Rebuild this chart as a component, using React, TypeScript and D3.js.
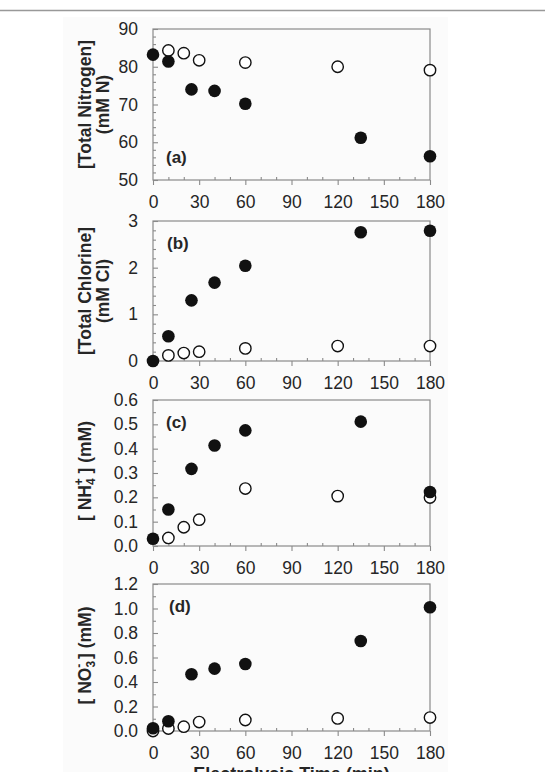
import React, { useEffect, useRef } from 'react';
import * as d3 from 'd3';

// electrolysis time (min)
const TIME_FILLED = [0, 10, 25, 40, 60, 135, 180];
const TIME_OPEN = [10, 20, 30, 60, 120, 180];
const TIME_OPEN_D = [0, 10, 20, 30, 60, 120, 180];
const X_TICKS = [0, 30, 60, 90, 120, 150, 180];

// (a) total nitrogen, mM N
const N_FILLED = [83.2, 81.4, 74.0, 73.6, 70.2, 61.2, 56.3];
const N_OPEN = [84.3, 83.6, 81.7, 81.1, 80.0, 79.1];
// (b) total chlorine, mM Cl
const CL_FILLED = [0.0, 0.53, 1.3, 1.68, 2.04, 2.76, 2.79];
const CL_OPEN = [0.12, 0.17, 0.2, 0.27, 0.32, 0.32];
// (c) NH4+, mM
const NH4_FILLED = [0.03, 0.15, 0.317, 0.413, 0.475, 0.511, 0.222];
const NH4_OPEN = [0.033, 0.077, 0.108, 0.236, 0.205, 0.199];
// (d) NO3-, mM
const NO3_FILLED = [0.022, 0.079, 0.463, 0.509, 0.547, 0.735, 1.01];
const NO3_OPEN = [0.0, 0.02, 0.035, 0.073, 0.09, 0.103, 0.11];

const FONT = '"Liberation Sans", Arial, sans-serif';
const AXIS_COLOR = '#8a8a8a';
const TEXT_COLOR = '#262626';
const LEFT = 153;
const RIGHT = 430;

const panels = [
  { key: 'a', top: 29, bottom: 180, domain: [50, 90], major: 10, minor: 2, fmt: d3.format('d'),
    filled: N_FILLED, open: N_OPEN, openT: TIME_OPEN, letter: '(a)', lx: 166 },
  { key: 'b', top: 221, bottom: 361, domain: [0, 3], major: 1, minor: 0.2, fmt: d3.format('d'),
    filled: CL_FILLED, open: CL_OPEN, openT: TIME_OPEN, letter: '(b)', lx: 167 },
  { key: 'c', top: 400, bottom: 546, domain: [0, 0.6], major: 0.1, minor: 0.05, fmt: d3.format('.1f'),
    filled: NH4_FILLED, open: NH4_OPEN, openT: TIME_OPEN, letter: '(c)', lx: 166 },
  { key: 'd', top: 584, bottom: 731, domain: [0, 1.2], major: 0.2, minor: 0.1, fmt: d3.format('.1f'),
    filled: NO3_FILLED, open: NO3_OPEN, openT: TIME_OPEN_D, letter: '(d)', lx: 169 },
];

const steps = (lo, hi, step) => {
  const out = [];
  const n = Math.round((hi - lo) / step);
  for (let i = 0; i <= n; i++) out.push(+(lo + i * step).toFixed(4));
  return out;
};

export default function App() {
  const svgRef = useRef(null);

  useEffect(() => {
    const svg = d3.select(svgRef.current);
    svg.selectAll('.panel').remove();

    const x = d3.scaleLinear().domain([0, 180]).range([LEFT, RIGHT]);
    const xMinor = steps(0, 180, 10).filter(v => v % 30 !== 0);

    panels.forEach(p => {
      const y = d3.scaleLinear().domain(p.domain).range([p.bottom, p.top]);
      const g = svg.append('g').attr('class', 'panel');

      // frame
      g.append('rect')
        .attr('x', LEFT).attr('y', p.top)
        .attr('width', RIGHT - LEFT).attr('height', p.bottom - p.top)
        .attr('fill', 'none').attr('stroke', AXIS_COLOR).attr('stroke-width', 1.2);

      // x axis: major outward, minor inward
      g.append('g')
        .attr('transform', `translate(0,${p.bottom})`)
        .call(d3.axisBottom(x).tickValues(X_TICKS).tickSizeInner(5).tickSizeOuter(0).tickPadding(11));
      g.append('g')
        .attr('transform', `translate(0,${p.bottom})`)
        .call(d3.axisBottom(x).tickValues(xMinor).tickSizeInner(-3).tickSizeOuter(0).tickFormat(() => ''));

      // y axis: all inward
      const yMajor = steps(p.domain[0], p.domain[1], p.major);
      const yMinor = steps(p.domain[0], p.domain[1], p.minor).filter(v => !yMajor.some(m => Math.abs(m - v) < 1e-6));
      g.append('g')
        .attr('transform', `translate(${LEFT},0)`)
        .call(d3.axisLeft(y).tickValues(yMajor).tickSizeInner(-5).tickSizeOuter(0).tickPadding(15).tickFormat(p.fmt));
      g.append('g')
        .attr('transform', `translate(${LEFT},0)`)
        .call(d3.axisLeft(y).tickValues(yMinor).tickSizeInner(-3).tickSizeOuter(0).tickFormat(() => ''));

      g.selectAll('.domain').remove();
      g.selectAll('.tick line').attr('stroke', AXIS_COLOR).attr('stroke-width', 1.1);
      g.selectAll('.tick text')
        .attr('font-family', FONT).attr('font-size', 17.5).attr('fill', TEXT_COLOR);

      // open circles first, filled on top
      g.selectAll('.open')
        .data(p.open.map((v, i) => [p.openT[i], v]))
        .join('circle')
        .attr('class', 'open')
        .attr('cx', d => x(d[0])).attr('cy', d => y(d[1])).attr('r', 5.7)
        .attr('fill', '#fff').attr('stroke', '#111').attr('stroke-width', 1.4);
      g.selectAll('.filled')
        .data(p.filled.map((v, i) => [TIME_FILLED[i], v]))
        .join('circle')
        .attr('class', 'filled')
        .attr('cx', d => x(d[0])).attr('cy', d => y(d[1])).attr('r', 6.3)
        .attr('fill', '#111');

      g.append('text')
        .attr('x', p.lx).attr('y', p.key === 'a' ? p.bottom - 17 : p.top + 28)
        .attr('font-family', FONT).attr('font-size', 17).attr('font-weight', 'bold')
        .attr('fill', TEXT_COLOR)
        .text(p.letter);
    });
  }, []);

  const titleStyle = { fontFamily: FONT, fontSize: 17.5, fontWeight: 'bold', fill: TEXT_COLOR };
  const cy = (a, b) => (a + b) / 2;

  return (
    <svg ref={svgRef} width={545} height={772} style={{ position: 'absolute', left: 0, top: 0, background: '#fff' }}>
      <rect x={63} y={17} width={385} height={755} fill="#fbfbfb" />
      <line x1={0} x2={545} y1={10.5} y2={10.5} stroke="#999" strokeWidth={1.3} />

      <text transform={`translate(91,${cy(29, 180)}) rotate(-90)`} textAnchor="middle" style={titleStyle}>[Total Nitrogen]</text>
      <text transform={`translate(109,${cy(29, 180)}) rotate(-90)`} textAnchor="middle" style={titleStyle}>(mM N)</text>

      <text transform={`translate(91,${cy(221, 361)}) rotate(-90)`} textAnchor="middle" style={titleStyle}>[Total Chlorine]</text>
      <text transform={`translate(109,${cy(221, 361)}) rotate(-90)`} textAnchor="middle" style={titleStyle}>(mM Cl)</text>

      <text transform={`translate(91,${cy(400, 546) - 2}) rotate(-90)`} textAnchor="middle" style={titleStyle}>
        [ NH<tspan fontSize={12} dy={4}>4</tspan><tspan fontSize={12} dx={-7} dy={-12}>+</tspan><tspan dy={8}> ] (mM)</tspan>
      </text>

      <text transform={`translate(91,${cy(584, 731) - 2}) rotate(-90)`} textAnchor="middle" style={titleStyle}>
        [ NO<tspan fontSize={12} dy={4}>3</tspan><tspan fontSize={12} dx={-7} dy={-12}>-</tspan><tspan dy={8}> ] (mM)</tspan>
      </text>

      <text x={(LEFT + RIGHT) / 2} y={780} textAnchor="middle" style={{ ...titleStyle, fontSize: 18 }}>Electrolysis Time (min)</text>
    </svg>
  );
}
